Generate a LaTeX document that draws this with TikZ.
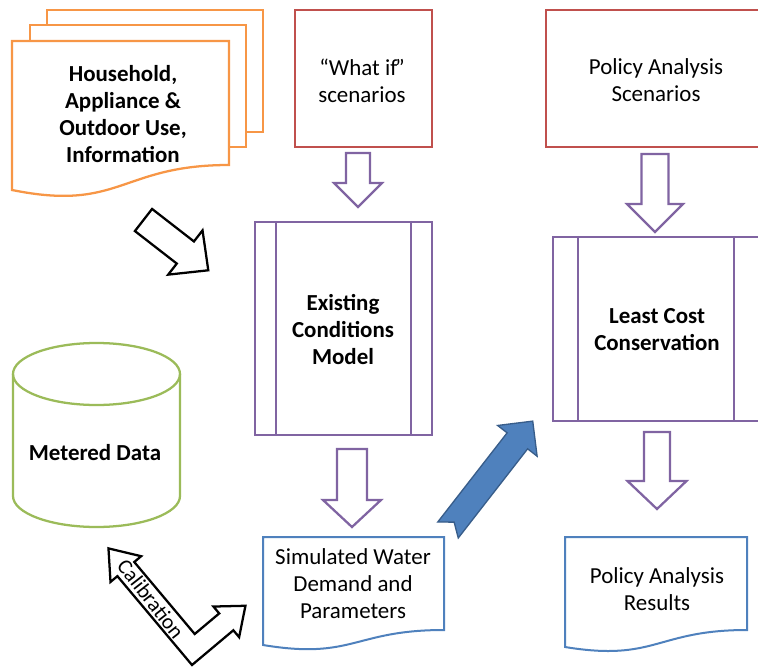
\documentclass[tikz,border=0pt]{standalone}
\usepackage{fontspec}
\setmainfont{Carlito}
\usetikzlibrary{calc}
\definecolor{accOrange}{HTML}{F79646}
\definecolor{accRed}{HTML}{C0504D}
\definecolor{accPurple}{HTML}{8064A2}
\definecolor{accGreen}{HTML}{9BBB59}
\definecolor{accBlue}{HTML}{4F81BD}
\definecolor{accBlueDark}{HTML}{385D8A}

% hollow block arrow pointing down: style, centre x, top, head base, tip, shaft half width, head half width
\newcommand\blockdown[7]{%
  \draw[#1] ({#2-#6},#3) -- ({#2+#6},#3) -- ({#2+#6},#4) -- ({#2+#7},#4) -- (#2,#5)
    -- ({#2-#7},#4) -- ({#2-#6},#4) -- cycle;}

\begin{document}
\begin{tikzpicture}[x=0.75pt, y=-0.75pt, line join=miter,
  txt/.style={align=center, font=\fontsize{17.2}{20.25}\selectfont, inner sep=0pt},
  btxt/.style={align=center, font=\fontsize{17.2}{20.25}\selectfont\bfseries, inner sep=0pt},
  scenbox/.style={draw=accRed, line width=1.6pt, inner sep=0pt, minimum height=102.75pt},
  procbox/.style={draw=accPurple, line width=1.8pt, inner sep=0pt},
  procline/.style={draw=accPurple, line width=1.8pt},
  docline/.style={draw=accBlue, line width=1.5pt, fill=white},
  multidoc/.style={draw=accOrange, line width=1.7pt, fill=white},
  dbline/.style={draw=accGreen, line width=1.7pt},
  hollowP/.style={draw=accPurple, fill=white, line width=1.7pt},
  hollowK/.style={draw=black, fill=white, line width=1.7pt},
  bluearrow/.style={fill=accBlue, draw=accBlueDark, line width=1pt}]

\useasboundingbox (0,0) rectangle (758,668);

% ---- stacked input documents
\draw[multidoc] (47,25) -- (47,10) -- (263,10) -- (263,132) -- (246,132);
\draw[multidoc] (30,41) -- (30,25) -- (246,25) -- (246,147) -- (229,147);
\draw[multidoc] (12,41) -- (229,41) -- (229,165) .. controls (120.5,165) and (120.5,212) .. (12,190) -- cycle;
\node[btxt] (house) at (123,114) {Household,\\Appliance \&\\Outdoor Use,\\Information};

% ---- scenario boxes
\node[scenbox, minimum width=102.75pt] (whatif) at (363.5,78.5) {};
\node[txt] (whatiftxt) at (362,81) {“What if\kern-0.1em”\\scenarios};
\node[scenbox, minimum width=165pt] (policy) at (656,78.5) {};
\node[txt] (policytxt) at (656,80) {Policy Analysis\\Scenarios};

% ---- model blocks (predefined process)
\node[procbox, minimum width=132.75pt, minimum height=159.75pt] (ecm) at (343.5,328.5) {};
\draw[procline] ($(ecm.north west)+(22,0)$) -- ($(ecm.south west)+(22,0)$);
\draw[procline] ($(ecm.north east)+(-22,0)$) -- ($(ecm.south east)+(-22,0)$);
\node[btxt] (ecmtxt) at (343,330) {Existing\\Conditions\\Model};

\node[procbox, minimum width=154.5pt, minimum height=138pt] (lcc) at (656,329) {};
\draw[procline] ($(lcc.north west)+(26,0)$) -- ($(lcc.south west)+(26,0)$);
\draw[procline] ($(lcc.north east)+(-26,0)$) -- ($(lcc.south east)+(-26,0)$);
\node[btxt] (lcctxt) at (657,330) {Least Cost\\Conservation};

% ---- metered data store
\draw[dbline] (13,374) -- (13,496) arc[start angle=180, end angle=360, x radius=62.625pt, y radius=23.25pt] -- (180,374);
\draw[dbline] (96.5,374) ellipse [x radius=62.625pt, y radius=23.25pt];
\node[btxt] (meter) at (95,453) {Metered Data};

% ---- output documents
\draw[docline] (263,537) -- (444,537) -- (444,630) .. controls (353.5,630) and (353.5,660) .. (263,645) -- cycle;
\node[txt] (sim) at (353,584) {Simulated Water\\Demand and\\Parameters};
\draw[docline] (565,537) -- (747,537) -- (747,630) .. controls (656,630) and (656,662) .. (565,647) -- cycle;
\node[txt] (results) at (657,589) {Policy Analysis\\Results};

% ---- hollow flow arrows
\blockdown{hollowP}{358}{153}{183}{207}{12}{24}
\blockdown{hollowP}{655}{154}{204}{232}{13.5}{28}
\blockdown{hollowP}{352}{449}{500}{527}{15}{29}
\blockdown{hollowP}{657}{432}{481}{509}{13}{29.5}

% input documents -> model
\begin{scope}[shift={(143.5,220)}, x={(0.5925pt,-0.46pt)}, y={(0.46pt,0.5925pt)}]
  \draw[hollowK] (0,-14) -- (53,-14) -- (53,-28) -- (82,0) -- (53,28) -- (53,14) -- (0,14) -- cycle;
\end{scope}

% simulated demand -> least cost
\begin{scope}[shift={(448,530)}, x={(0.4605pt,0.5918pt)}, y={(0.5918pt,-0.4605pt)}]
  \draw[bluearrow] (0,-13) -- (113,-13) -- (113,-25) -- (138,0) -- (113,25) -- (113,13) -- (0,13) -- (10,0) -- cycle;
\end{scope}

% calibration loop between metered data and simulated demand
\begin{scope}[shift={(192,665)}, x={(0.5745pt,0.4823pt)}, y={(-0.4823pt,0.5745pt)}]
  \draw[hollowK] (0,0) -- (54,0) -- (54,-9) -- (79,11) -- (54,31) -- (54,22) -- (22,22)
    -- (22,116) -- (31,116) -- (11,143) -- (-9,116) -- (0,116) -- cycle;
  \node[rotate=-52, font=\fontsize{16}{19}\selectfont, inner sep=0pt] (calib) at (11,77) {Calibration};
\end{scope}

\end{tikzpicture}
\end{document}
